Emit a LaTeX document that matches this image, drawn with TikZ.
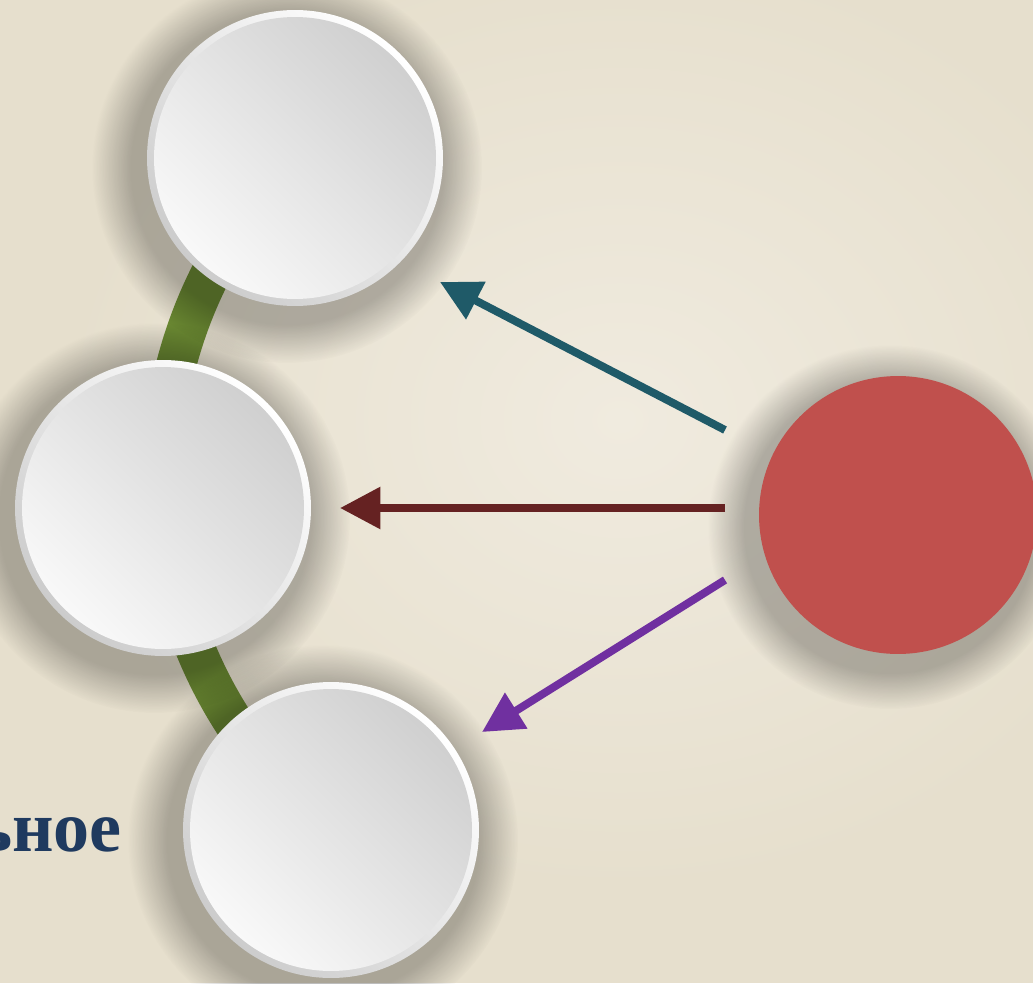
\documentclass[tikz,border=0pt]{standalone}
\usepackage{fontspec}
\setmainfont{Liberation Serif}
\usetikzlibrary{arrows.meta,fadings}
\definecolor{paper}{HTML}{E6DFCD}
\definecolor{paperlight}{HTML}{F0EBDF}
\definecolor{leaf}{HTML}{6A8832}
\definecolor{tealarrow}{HTML}{1F5A68}
\definecolor{winearrow}{HTML}{652222}
\definecolor{plumarrow}{HTML}{7030A0}
\definecolor{brick}{HTML}{C0504D}
\definecolor{ink}{HTML}{1F3A5F}

\begin{document}
\begin{tikzpicture}[x=0.02cm,y=-0.02cm]
        \tikzstyle{disc}=[circle,inner sep=0pt,minimum size=5.92cm,
                top color=white,bottom color=gray!40,shading angle=-45,
                path picture={\shade[top color=gray!38,bottom color=gray!4,shading angle=-45]
                        (path picture bounding box.center) circle (2.82cm);}]
        \tikzstyle{halo}=[black,fill opacity=0.26,path fading=circle with fuzzy edge 20 percent]
        \tikzstyle{pointer}=[line width=4.5pt,-{Triangle[length=23pt,width=23pt]}]

        \useasboundingbox (0,0) rectangle (1033,983);
        \fill[paper] (0,0) rectangle (1033,983);
        \shade[inner color=paperlight,outer color=paper] (620,420) ellipse [x radius=560, y radius=470];

        \coordinate (top) at (295,158);
        \draw[leaf,line width=0.8cm] (top) arc[start angle=225.2,end angle=128.7,radius=451];

        \foreach \name/\x/\y in {top/295/158, mid/163/508, bot/331/830}{
                \fill[halo] (\x-8,\y+10) circle [radius=195];
                \node[disc] (\name) at (\x,\y) {};
        }

        \fill[halo] (890,527) circle [radius=182];
        \node[circle,fill=brick,minimum size=5.56cm] (red) at (898,515) {};

        \coordinate (from-top) at (725,430);
        \coordinate (from-mid) at (725,508);
        \coordinate (from-bot) at (725,580);
        \coordinate (to-top) at (440,282);
        \coordinate (to-mid) at (340,508);
        \coordinate (to-bot) at (482,732);

        \foreach \pos/\col in {top/tealarrow, mid/winearrow, bot/plumarrow}
                \draw[pointer,\col] (from-\pos) -- (to-\pos);

        \node[anchor=base east,text=ink,font=\bfseries\fontsize{41}{43}\selectfont] (caption) at (128,851) {ьное};
\end{tikzpicture}
\end{document}
